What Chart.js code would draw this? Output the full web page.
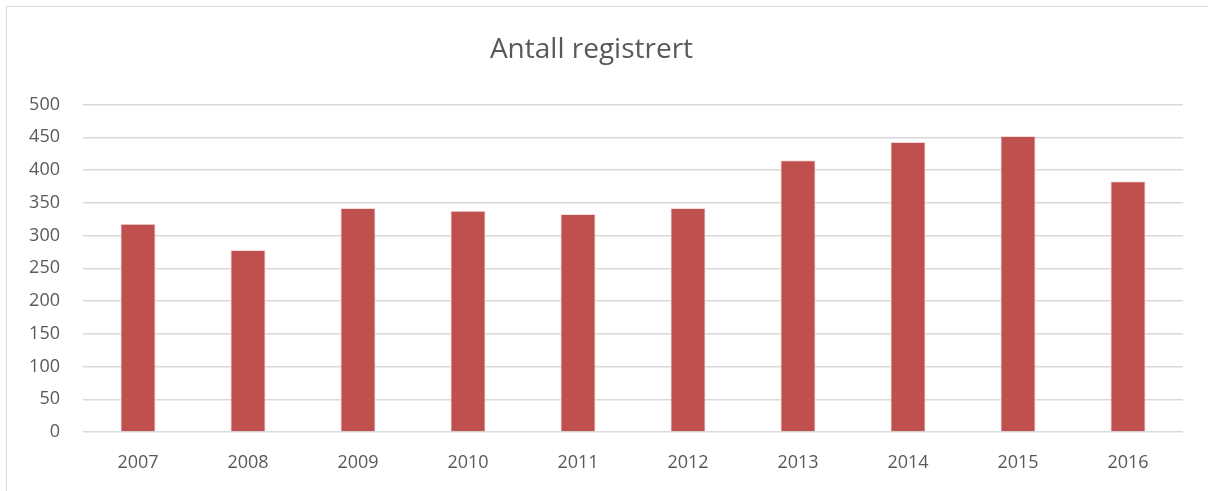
<!DOCTYPE html>
<html>
<head>
<meta charset="utf-8">
<script src="https://cdn.jsdelivr.net/npm/chart.js@4"></script>
<style>
  body { margin: 0; background: #fff; }
  .frame { position: absolute; left: 6px; top: 6px; width: 1220px; height: 500px; border: 1px solid #d9d9d9; }
  .wrap { position: absolute; left: 0; top: 0; width: 1208px; height: 491px; }
</style>
</head>
<body>
<div class="frame"></div>
<div class="wrap"><canvas class="reg-chart"></canvas></div>
<script>
const years = ['2007', '2008', '2009', '2010', '2011', '2012', '2013', '2014', '2015', '2016'];
const registered = [318, 278, 342, 338, 333, 342, 415, 443, 452, 383];
const yTicks = [0, 50, 100, 150, 200, 250, 300, 350, 400, 450, 500];

const ctx = document.querySelector('.reg-chart');
const textColor = '#595959';
const font = 'Open Sans';

new Chart(ctx, {
  type: 'bar',
  data: {
    labels: years,
    datasets: [{
      label: 'Antall registrert',
      data: registered,
      backgroundColor: '#c0504d',
      borderColor: '#f2dcdb',
      borderWidth: 1,
      barPercentage: 0.32,
      categoryPercentage: 1
    }]
  },
  options: {
    responsive: true,
    maintainAspectRatio: false,
    animation: false,
    layout: {
      padding: { left: 0, right: 25, top: 0, bottom: 0 }
    },
    scales: {
      x: {
        grid: { display: false },
        border: { display: false },
        ticks: { color: textColor, font: { family: font, size: 18 }, padding: 12 },
        afterFit: (scale) => { scale.height = 59; }
      },
      y: {
        min: 0,
        max: 500,
        afterBuildTicks: (scale) => { scale.ticks = yTicks.map(v => ({ value: v })); },
        grid: { color: '#d9d9d9', lineWidth: 1.5, drawTicks: false },
        border: { display: false },
        ticks: { color: textColor, font: { family: font, size: 18 }, padding: 23 },
        afterFit: (scale) => { scale.width = 83; }
      }
    },
    plugins: {
      legend: { display: false },
      tooltip: { enabled: false },
      title: {
        display: true,
        text: 'Antall registrert',
        color: textColor,
        font: { family: font, size: 28, weight: 'normal', lineHeight: 1.2 },
        padding: { top: 33, bottom: 38 }
      }
    }
  }
});
</script>
</body>
</html>
